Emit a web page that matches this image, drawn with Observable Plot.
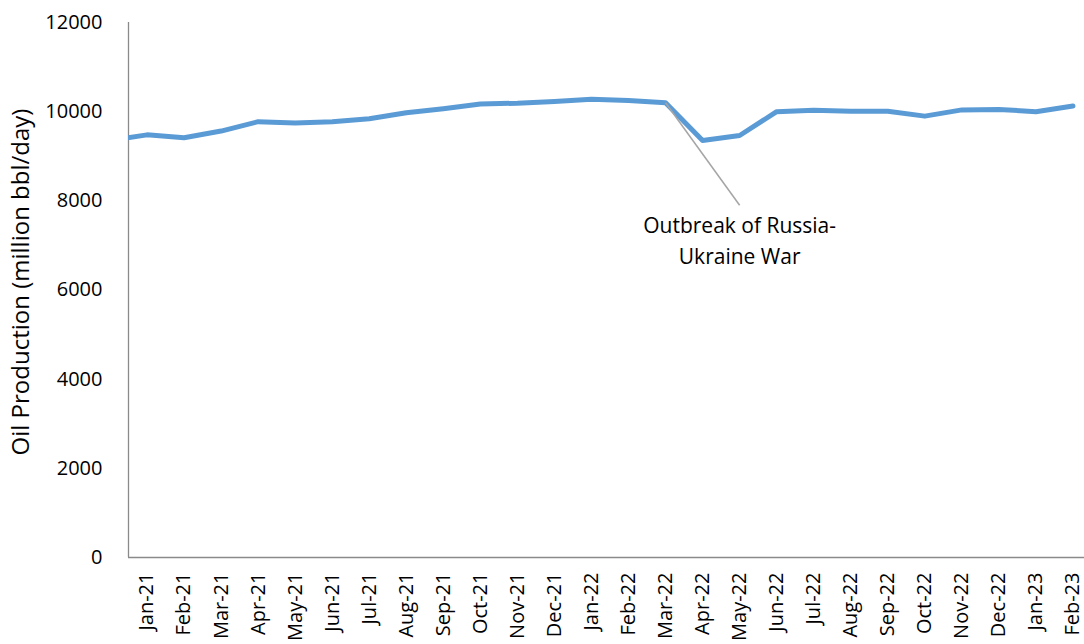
<!DOCTYPE html>
<html>
<head>
<meta charset="utf-8">
<script src="https://cdn.jsdelivr.net/npm/d3@7"></script>
<script src="https://cdn.jsdelivr.net/npm/@observablehq/plot@0.6"></script>
<style>
  html, body { margin: 0; padding: 0; background: #fff; overflow: hidden; }
</style>
</head>
<body>
<div id="chart"></div>
<script>
const months = ["Jan-21","Feb-21","Mar-21","Apr-21","May-21","Jun-21","Jul-21","Aug-21","Sep-21","Oct-21","Nov-21","Dec-21",
                "Jan-22","Feb-22","Mar-22","Apr-22","May-22","Jun-22","Jul-22","Aug-22","Sep-22","Oct-22","Nov-22","Dec-22",
                "Jan-23","Feb-23"];
const production = [9480, 9415, 9565, 9775, 9745, 9775, 9840, 9975, 10065, 10170, 10190, 10230,
                    10280, 10250, 10200, 9355, 9465, 10000, 10030, 10010, 10010, 9900, 10040, 10050,
                    10000, 10125];
// preceding month, only partly visible at the left edge of the plot
const priorMonth = "Dec-20";
const priorValue = 9350;
const yTicks = [0, 2000, 4000, 6000, 8000, 10000, 12000];
const yLabel = "Oil Production (million bbl/day)";
const annotationText = "Outbreak of Russia-\nUkraine War";
const annotationFrom = {month: "Mar-22", value: 10200};
const annotationTo = {month: "May-22", value: 7900};
const annotationLabelAt = {month: "May-22", value: 7150};

const rows = [{i: -1, m: priorMonth, v: priorValue}, ...months.map((m, i) => ({i, m, v: production[i]}))];
const idx = m => months.indexOf(m);

const chart = Plot.plot({
  width: 1084,
  height: 644,
  marginLeft: 128,
  marginRight: 0,
  marginTop: 22,
  marginBottom: 87,
  style: {fontFamily: "'Open Sans', sans-serif", fontSize: "20px", color: "#000", background: "#fff"},
  x: {type: "linear", domain: [-0.5, 25.5], range: [128, 1091], axis: null},
  y: {domain: [0, 12000], axis: null},
  marks: [
    Plot.axisY({ticks: yTicks, tickSize: 0, tickPadding: 26, tickFormat: d => String(d), label: null, fontSize: 20}),
    Plot.axisX({ticks: d3.range(months.length), tickFormat: i => months[i], tickRotate: -90, tickSize: 0, tickPadding: 15, label: null, fontSize: 20}),
    Plot.ruleX([-0.5], {stroke: "#8a8a8a", strokeWidth: 1.3}),
    Plot.ruleY([0], {stroke: "#8a8a8a", strokeWidth: 1.3}),
    Plot.line(rows, {x: "i", y: "v", stroke: "#5B9BD5", strokeWidth: 5, strokeLinejoin: "round", clip: true}),
    Plot.link([{}], {x1: () => idx(annotationFrom.month), y1: () => annotationFrom.value,
                     x2: () => idx(annotationTo.month), y2: () => annotationTo.value,
                     stroke: "#a5a5a5", strokeWidth: 1.5}),
    Plot.text([annotationText], {x: () => idx(annotationLabelAt.month), y: () => annotationLabelAt.value,
                                 text: d => d, fontSize: 21, lineHeight: 1.45, fill: "#000"}),
    Plot.text([yLabel], {frameAnchor: "left", textAnchor: "middle", rotate: -90, dx: -107, dy: -8, text: d => d, fontSize: 24, fill: "#000"})
  ]
});
document.getElementById("chart").appendChild(chart);
</script>
</body>
</html>
